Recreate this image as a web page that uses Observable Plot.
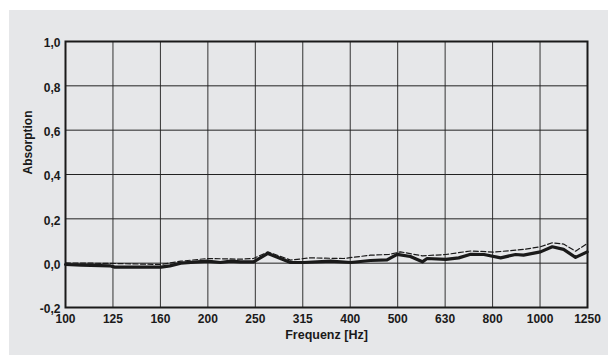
<!DOCTYPE html>
<html>
<head>
<meta charset="utf-8">
<script src="https://cdn.jsdelivr.net/npm/d3@7"></script>
<script src="https://cdn.jsdelivr.net/npm/@observablehq/plot@0.6"></script>
<style>
  html, body { margin: 0; padding: 0; background: #ffffff; }
  #wrap { position: relative; width: 608px; height: 356px; overflow: hidden; }
  #panel { position: absolute; left: 9px; top: 10px; width: 599px; height: 345px; background: #e6e7e9; }
  #chart { position: absolute; left: 0; top: 0; }
</style>
</head>
<body>
<div id="wrap"><div id="panel"></div><div id="chart"></div></div>
<script>
// Third-octave band tick labels (nominal) and their exact centres
const bandLabels = ["100","125","160","200","250","315","400","500","630","800","1000","1250"];
const bandCentres = bandLabels.map((_, i) => 100 * Math.pow(10, i / 10));
const yTicks = [-0.2, 0, 0.2, 0.4, 0.6, 0.8, 1.0];

// Solid (thick) curve: frequency [Hz] and absorption
const solidFreq = [100,108,124,127,159,166,175,199,212,223,234,249,267,298,318,362,399,439,476,500,533,565,578,633,674,714,762,826,888,923,1002,1061,1121,1188,1257];
const solidAbs  = [-0.006,-0.009,-0.012,-0.018,-0.018,-0.012,0.0,0.009,0.003,0.009,0.006,0.006,0.044,0.003,0.003,0.009,0.003,0.012,0.015,0.04,0.03,0.006,0.021,0.017,0.024,0.04,0.039,0.024,0.039,0.036,0.051,0.074,0.062,0.026,0.051];

// Dashed curve
const dashFreq = [100,124,159,175,199,234,249,267,298,328,385,439,480,508,565,633,714,800,923,1002,1061,1121,1188,1257];
const dashAbs  = [0.001,-0.001,-0.006,0.009,0.021,0.018,0.021,0.051,0.014,0.024,0.021,0.036,0.039,0.051,0.033,0.039,0.055,0.05,0.062,0.074,0.092,0.086,0.054,0.089];

const solid = solidFreq.map((f, i) => ({f, a: solidAbs[i]}));
const dashed = dashFreq.map((f, i) => ({f, a: dashAbs[i]}));

const font = "'Liberation Sans', Arial, Helvetica, sans-serif";

const chart = Plot.plot({
  width: 608,
  height: 356,
  marginLeft: 65,
  marginRight: 21,
  marginTop: 41,
  marginBottom: 49,
  style: { background: "transparent", fontFamily: font, color: "#1a1a1a" },
  x: { type: "log", domain: [100, 100 * Math.pow(10, 1.1)] },
  y: { domain: [-0.2, 1.0] },
  marks: [
    Plot.ruleX(bandCentres, { stroke: "#333333", strokeWidth: 1 }),
    Plot.ruleY(yTicks, { stroke: "#222222", strokeWidth: 1 }),
    Plot.line(dashed, { x: "f", y: "a", stroke: "#1a1a1a", strokeWidth: 1.2, strokeDasharray: "5,2.5", strokeLinejoin: "round" }),
    Plot.line(solid, { x: "f", y: "a", stroke: "#1a1a1a", strokeWidth: 3.2, strokeLinejoin: "round" }),
    Plot.frame({ stroke: "#1a1a1a", strokeWidth: 2 }),
    Plot.axisX({
      ticks: bandCentres, tickSize: 0, tickPadding: 7,
      tickFormat: d => bandLabels[bandCentres.findIndex(b => Math.abs(b - d) < 1e-6)],
      fontSize: 12, fontWeight: "bold", fill: "#1a1a1a", label: null
    }),
    Plot.axisY({
      ticks: yTicks, tickSize: 0, tickPadding: 5, dy: 2,
      tickFormat: d => d.toFixed(1).replace(".", ","),
      fontSize: 12, fontWeight: "bold", fill: "#1a1a1a", label: null
    }),
    Plot.text(["Frequenz [Hz]"], { frameAnchor: "bottom", lineAnchor: "top", dy: 23, fontSize: 12.5, fontWeight: "bold", fill: "#1a1a1a" }),
    Plot.text(["Absorption"], { frameAnchor: "left", dx: -37, rotate: -90, fontSize: 12, fontWeight: "bold", fill: "#1a1a1a" })
  ]
});
document.getElementById("chart").appendChild(chart);
</script>
</body>
</html>
